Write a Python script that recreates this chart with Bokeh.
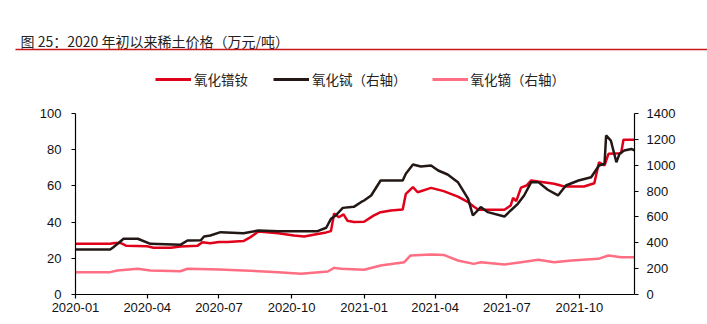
import pandas as pd
from bokeh.plotting import figure
from bokeh.models import (Range1d, LinearAxis, FixedTicker, DatetimeTickFormatter,
                          Legend, LegendItem)
from bokeh.layouts import column
from bokeh.embed import file_html
from bokeh.resources import INLINE
from bokeh.core.properties import value

# ---------------- data ----------------
title_text = "图 25：2020 年初以来稀土价格（万元/吨）"
series_names = ["氧化镨钕", "氧化铽（右轴）", "氧化镝（右轴）"]

pr_dates = ["2020-01-01", "2020-02-14", "2020-02-20", "2020-02-27", "2020-03-05", "2020-04-01",
            "2020-04-09", "2020-05-01", "2020-05-13", "2020-06-04", "2020-06-10", "2020-06-20",
            "2020-07-01", "2020-07-12", "2020-08-01", "2020-08-10", "2020-08-20", "2020-09-14",
            "2020-10-04", "2020-10-17", "2020-11-03", "2020-11-14", "2020-11-20", "2020-11-24",
            "2020-11-30", "2020-12-06", "2020-12-11", "2020-12-19", "2021-01-01", "2021-01-13",
            "2021-01-22", "2021-02-04", "2021-02-19", "2021-02-23", "2021-03-04", "2021-03-10",
            "2021-03-27", "2021-04-12", "2021-04-30", "2021-05-13", "2021-05-20", "2021-05-26",
            "2021-06-28", "2021-07-06", "2021-07-09", "2021-07-13", "2021-07-19", "2021-07-26",
            "2021-08-01", "2021-08-10", "2021-08-30", "2021-09-12", "2021-10-07", "2021-10-20",
            "2021-10-26", "2021-11-02", "2021-11-07", "2021-11-23", "2021-11-26", "2021-12-10"]
pr_vals = [28.0, 28.0, 28.5, 28.5, 27.0, 26.7,
           25.8, 25.8, 26.5, 27.0, 28.9, 28.3,
           29.0, 29.0, 29.5, 31.7, 34.8, 33.9,
           32.6, 32.0, 33.4, 34.3, 35.0, 44.8,
           42.7, 44.3, 40.7, 40.0, 40.2, 43.6,
           45.5, 46.4, 47.0, 55.6, 59.3, 56.5,
           58.9, 57.1, 54.1, 51.0, 48.6, 46.8,
           46.8, 49.2, 53.4, 51.6, 59.0, 60.2,
           63.0, 62.4, 61.2, 59.7, 59.7, 61.5,
           73.0, 71.3, 77.7, 78.0, 85.5, 85.5]

tb_dates = ["2020-01-01", "2020-02-14", "2020-02-18", "2020-03-02", "2020-03-20", "2020-04-05",
            "2020-05-13", "2020-05-22", "2020-06-08", "2020-06-12", "2020-06-20", "2020-07-03",
            "2020-08-01", "2020-08-20", "2020-09-14", "2020-11-03", "2020-11-14", "2020-11-20",
            "2020-11-26", "2020-12-05", "2020-12-19", "2020-12-28", "2021-01-01", "2021-01-10",
            "2021-01-22", "2021-02-19", "2021-02-23", "2021-03-04", "2021-03-14", "2021-03-27",
            "2021-04-05", "2021-04-17", "2021-04-30", "2021-05-13", "2021-05-19", "2021-05-29",
            "2021-06-07", "2021-06-28", "2021-07-06", "2021-07-15", "2021-07-23", "2021-08-01",
            "2021-08-10", "2021-08-22", "2021-09-04", "2021-09-14", "2021-09-30", "2021-10-16",
            "2021-10-26", "2021-11-02", "2021-11-04", "2021-11-10", "2021-11-17", "2021-11-21",
            "2021-11-27", "2021-12-06", "2021-12-10"]
tb_vals = [348, 348, 366, 431, 431, 392,
           384, 418, 420, 449, 456, 482,
           473, 495, 490, 490, 516, 585,
           611, 670, 678, 714, 727, 766,
           882, 882, 934, 1005, 990, 998,
           959, 928, 869, 740, 611, 676,
           637, 603, 650, 701, 766, 869,
           869, 810, 766, 843, 882, 907,
           998, 1011, 1230, 1191, 1023, 1088,
           1114, 1126, 1114]

dy_dates = ["2020-01-01", "2020-02-14", "2020-02-23", "2020-03-20", "2020-04-05", "2020-05-13",
            "2020-05-22", "2020-07-01", "2020-08-01", "2020-09-14", "2020-10-13", "2020-11-16",
            "2020-11-24", "2020-12-03", "2021-01-01", "2021-01-22", "2021-02-21", "2021-03-01",
            "2021-03-27", "2021-04-12", "2021-04-30", "2021-05-20", "2021-05-29", "2021-06-28",
            "2021-07-19", "2021-08-10", "2021-08-30", "2021-09-21", "2021-10-25", "2021-11-07",
            "2021-11-23", "2021-12-10"]
dy_vals = [173, 173, 186, 199, 186, 180,
           199, 193, 186, 173, 160, 178,
           206, 199, 191, 224, 250, 302,
           309, 306, 263, 237, 250, 232,
           250, 268, 250, 263, 276, 302,
           289, 289]

x_tick_labels = ["2020-01", "2020-04", "2020-07", "2020-10", "2021-01", "2021-04", "2021-07", "2021-10"]
left_ticks = [0, 20, 40, 60, 80, 100]
right_ticks = [0, 200, 400, 600, 800, 1000, 1200, 1400]
x_start, x_end = "2020-01-01", "2021-12-10"

# ---------------- styles ----------------
RED = "#e0001a"
BLACK = "#231815"
PINK = "#ff6e82"
CJK = "Noto Sans CJK SC"
LAT = "Liberation Sans"
W = 707
HEAD_H = 100
MAIN_H = 324 - HEAD_H
NAN = float("nan")

# ---------------- header: title, rule, legend ----------------
head = figure(width=W, height=HEAD_H, x_range=Range1d(0, W), y_range=Range1d(HEAD_H, 0),
              toolbar_location=None, output_backend="svg", min_border=0,
              min_border_left=0, min_border_right=0, min_border_top=0, min_border_bottom=0,
              x_axis_location=None, y_axis_location=None, outline_line_color=None,
              frame_align=False)
head.grid.visible = False
head.text(x=[20], y=[40], text=[title_text], text_font=value(CJK), text_font_size="14px",
          text_color="#222222", text_baseline="middle", text_align="left")
head.segment(x0=[15], y0=[49], x1=[W], y1=[49], line_color="#c8161d", line_width=1.5)

# legend keys: invisible (NaN) renderers carrying each series' line style
key_pr = head.line(x=[NAN, NAN], y=[NAN, NAN], line_color=RED, line_width=3)
key_tb = head.line(x=[NAN, NAN], y=[NAN, NAN], line_color=BLACK, line_width=3)
key_dy = head.line(x=[NAN, NAN], y=[NAN, NAN], line_color=PINK, line_width=3)
legend = Legend(items=[LegendItem(label=series_names[0], renderers=[key_pr]),
                       LegendItem(label=series_names[1], renderers=[key_tb]),
                       LegendItem(label=series_names[2], renderers=[key_dy])],
                location=(155, 11), orientation="horizontal",
                glyph_width=36, glyph_height=16, label_height=16, label_standoff=3,
                spacing=25, padding=0, margin=0,
                border_line_color=None, background_fill_alpha=0,
                label_text_font=CJK, label_text_font_size="13.5px", label_text_color="#222222")
head.add_layout(legend, "center")

# ---------------- main chart ----------------
to_ms = lambda s: pd.Timestamp(s).value / 1e6
p = figure(width=W, height=MAIN_H, x_axis_type="datetime",
           x_range=Range1d(pd.Timestamp(x_start), pd.Timestamp(x_end)),
           y_range=Range1d(0, 100), toolbar_location=None, output_backend="svg",
           min_border_left=75, min_border_right=73, min_border_top=113 - HEAD_H,
           min_border_bottom=30, outline_line_color=None, frame_align=False)
p.grid.visible = False
p.extra_y_ranges = {"right": Range1d(0, 1400)}

r_dy = p.line(pd.to_datetime(dy_dates), dy_vals, line_color=PINK, line_width=2.5,
              y_range_name="right")
r_pr = p.line(pd.to_datetime(pr_dates), pr_vals, line_color=RED, line_width=2.5)
r_tb = p.line(pd.to_datetime(tb_dates), tb_vals, line_color=BLACK, line_width=2.5,
              y_range_name="right")

raxis = LinearAxis(y_range_name="right")
p.add_layout(raxis, "right")

for ax in [p.xaxis[0], p.yaxis[0], raxis]:
    ax.axis_line_color = "black"
    ax.axis_line_width = 1.2
    ax.major_tick_line_color = "black"
    ax.major_tick_line_width = 1.2
    ax.major_tick_in = 0
    ax.major_tick_out = 4
    ax.minor_tick_line_color = None
    ax.major_label_text_font = LAT
    ax.major_label_text_font_size = "13px"
    ax.major_label_text_color = "#111111"

p.yaxis[0].ticker = FixedTicker(ticks=left_ticks)
p.yaxis[0].major_label_standoff = 10
raxis.ticker = FixedTicker(ticks=right_ticks)
raxis.major_label_standoff = 8
p.xaxis[0].ticker = FixedTicker(ticks=[to_ms(s + "-01") for s in x_tick_labels])
fmt = "%Y-%m"
p.xaxis[0].formatter = DatetimeTickFormatter(years=fmt, months=fmt, days=fmt, hours=fmt,
                                             minutes=fmt, seconds=fmt, milliseconds=fmt)
p.xaxis[0].major_label_standoff = 4

layout = column(head, p, spacing=0)
open("out.html", "w").write(file_html(layout, INLINE))
